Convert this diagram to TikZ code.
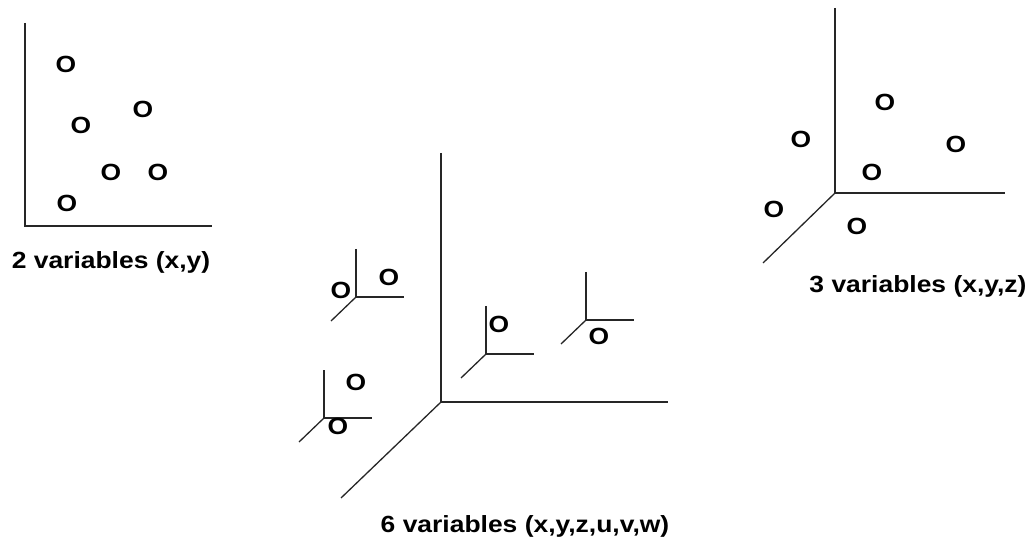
\documentclass[tikz,border=0pt]{standalone}
\usepackage{fontspec}
\setmainfont{Liberation Sans}
\newfontfamily\widesans[FakeStretch=1.13]{Liberation Sans}
\begin{document}
\begin{tikzpicture}[x=1pt,y=-1pt,
  axis/.style={line width=1.3pt,black!85},
  pt/.style={inner sep=0pt,font=\widesans\fontsize{23.4}{28}\selectfont\bfseries},
  caption/.style={inner sep=0pt,font=\widesans\fontsize{23.4}{28}\selectfont\bfseries},
  miniaxes/.pic={
    \draw[axis] (0,-48) -- (0,0) -- (48,0);
    \draw[axis] (0,0) -- (-25,24);
  }]
\useasboundingbox (0,0) rectangle (1029,540);

% two variables: plane axes
\coordinate (o2) at (25,226);
\draw[axis] (25,23) -- (o2) -- (212,226);
\node[pt] (p21) at (66,64) {O};
\node[pt] (p22) at (81,125) {O};
\node[pt] (p23) at (143,109) {O};
\node[pt] (p24) at (111,172) {O};
\node[pt] (p25) at (158,172) {O};
\node[pt] (p26) at (67,203) {O};
\node[caption] (c2) at (111,262) {2 variables (x,y)};

% three variables: spatial axes
\coordinate (o3) at (835,193);
\draw[axis] (835,8) -- (o3) -- (1005,193);
\draw[axis] (o3) -- (763,263);
\node[pt] (p31) at (885,102) {O};
\node[pt] (p32) at (801,139) {O};
\node[pt] (p33) at (956,144) {O};
\node[pt] (p34) at (872,172) {O};
\node[pt] (p35) at (774,209) {O};
\node[pt] (p36) at (857,226) {O};
\node[caption] (c3) at (918,286) {3 variables (x,y,z)};

% six variables: spatial axes with a small frame at each point
\coordinate (o6) at (441,402);
\draw[axis] (441,153) -- (o6) -- (668,402);
\draw[axis] (o6) -- (341,498);

\pic at (356,297) {miniaxes};
\node[pt] (p61) at (341,290) {O};
\node[pt] (p62) at (389,277) {O};

\pic at (324,418) {miniaxes};
\node[pt] (p63) at (356,382) {O};
\node[pt] (p64) at (338,426) {O};

\pic at (486,354) {miniaxes};
\node[pt] (p65) at (499,324) {O};

\pic at (586,320) {miniaxes};
\node[pt] (p66) at (599,336) {O};

\node[caption] (c6) at (525,526) {6 variables (x,y,z,u,v,w)};
\end{tikzpicture}
\end{document}
